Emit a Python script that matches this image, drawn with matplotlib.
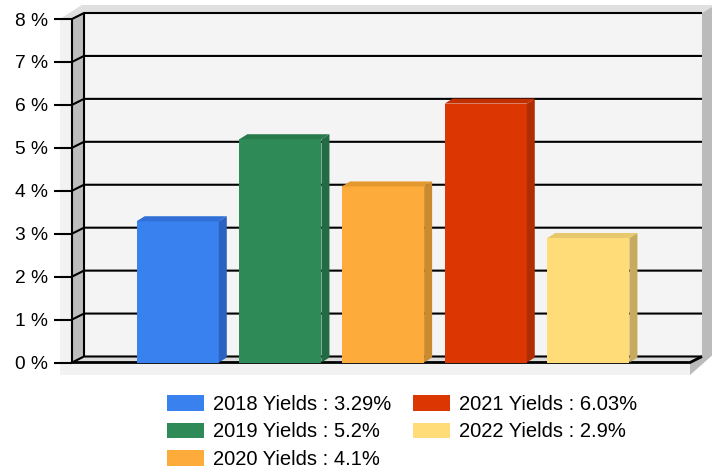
import matplotlib
matplotlib.use("Agg")
import matplotlib.pyplot as plt
from matplotlib.patches import Polygon, Patch
from matplotlib.lines import Line2D
from matplotlib.transforms import IdentityTransform

plt.rcParams['font.family'] = ['Liberation Sans', 'DejaVu Sans']

# Yearly yields (%)
years = ["2018", "2019", "2020", "2021", "2022"]
yields = [3.29, 5.2, 4.1, 6.03, 2.9]
yticks = list(range(0, 9))

front_colors = ["#3881ee", "#2e8b57", "#fdab3a", "#dc3603", "#ffdc78"]
top_colors = ["#2f6fd6", "#287a4c", "#e4992f", "#c22f02", "#e8c86c"]
side_colors = ["#2a62c2", "#226b43", "#c98a30", "#b02c02", "#c6ab5f"]

W, H = 717, 471
fig = plt.figure(figsize=(W / 100, H / 100), dpi=100)
ax = fig.add_axes([72 / W, 1 - 362.5 / H, 618 / W, 343.5 / H])
ax.set_xlim(-1.03, 4.99)
ax.set_ylim(0, 8)
ax.patch.set_visible(False)
for s in ax.spines.values():
    s.set_visible(False)
ax.set_xticks([])
ax.set_yticks(yticks, [f"{t} %" for t in yticks])
ax.tick_params(axis='y', length=13, width=1.5, pad=4.5, labelsize=13.8, color='black')

ident = IdentityTransform()
WALL = (12, 6)   # depth of the walls, pixels
BAR = (8, 5)     # depth of the bars, pixels


def disp(x, y, trans, dx=0, dy=0):
    px, py = trans.transform((x, y))
    return (px + dx, py + dy)


def poly(pts, color, z):
    ax.add_patch(Polygon(pts, closed=True, facecolor=color, edgecolor='none',
                         transform=ident, clip_on=False, zorder=z))


def line(pts, lw=1.5, z=1):
    xs, ys = zip(*pts)
    ax.add_line(Line2D(xs, ys, color='black', lw=lw, transform=ident,
                       clip_on=False, zorder=z, solid_capstyle='butt'))


fl, fb = disp(0, 0, ax.transAxes)
fr, ft = disp(1, 1, ax.transAxes)
dx, dy = WALL

# box around the plot
poly([(fl - 12, ft), (fl - 12, fb - 12.5), (fr, fb - 12.5), (fr + 22, fb + 7),
      (fr + 22, ft + 14), (fl + 10, ft + 14)], '#f2f2f2', 0)
poly([(fl - 12, ft), (fl + 10, ft + 14), (fr + 22, ft + 14), (fr + 22, ft + 12),
      (fr + dx, ft + dy), (fl + dx, ft + dy), (fl, ft)], '#e0e0e0', 0.1)
poly([(fr + dx, ft + dy), (fr + 22, ft + 12), (fr + 22, fb + 7), (fr, fb - 12.5),
      (fr, fb), (fr + dx, fb + dy)], '#bbbbbb', 0.1)
# back plane, left wall, floor
poly([(fl + dx, fb + dy), (fr + dx, fb + dy), (fr + dx, ft + dy), (fl + dx, ft + dy)], '#f4f4f4', 0.2)
poly([(fl, fb), (fl + dx, fb + dy), (fl + dx, ft + dy), (fl, ft)], '#bdbdbd', 0.3)
poly([(fl, fb), (fl + dx, fb + dy), (fr + dx, fb + dy), (fr, fb)], '#dadada', 0.3)

# gridlines on the back plane
for t in yticks:
    y = disp(0, t, ax.transData)[1]
    line([(fl, y), (fl + dx, y + dy), (fr + dx, y + dy)])
line([(fl, fb), (fl, ft)])
line([(fl + dx, fb + dy), (fl + dx, ft + dy)])
line([(fl, fb), (fr, fb), (fr + dx, fb + dy)], lw=2)

# bars with top and side faces
x = list(range(len(years)))
bw = 0.8
ax.bar(x, yields, width=bw, color=front_colors, zorder=3)
bx, by = BAR
for i, v in enumerate(yields):
    lt = disp(i - bw / 2, v, ax.transData)
    rt = disp(i + bw / 2, v, ax.transData)
    rb = disp(i + bw / 2, 0, ax.transData)
    poly([rb, rt, (rt[0] + bx, rt[1] + by), (rb[0] + bx, rb[1] + by)], side_colors[i], 3.1)
    poly([lt, rt, (rt[0] + bx, rt[1] + by), (lt[0] + bx, lt[1] + by)], top_colors[i], 3.1)

handles = [Patch(facecolor=c, edgecolor='none') for c in front_colors]
labels = [f"{y} Yields : {v}%" for y, v in zip(years, yields)]
fig.legend(handles, labels, ncol=2, loc='upper left',
           bbox_to_anchor=(167 / W, 1 - 395 / H), frameon=False, fontsize=14.5,
           handlelength=1.85, handleheight=0.8, handletextpad=0.45,
           columnspacing=1.05, labelspacing=0.42, borderpad=0, borderaxespad=0)

fig.savefig("out.png", dpi=100)
